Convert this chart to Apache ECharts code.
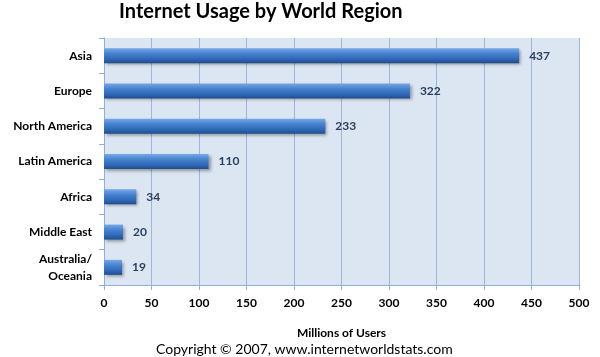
<!DOCTYPE html>
<html><head><meta charset="utf-8">
<script src="https://cdn.jsdelivr.net/npm/echarts@6/dist/echarts.min.js"></script>
<style>html,body{margin:0;padding:0;background:#fff}#c{width:600px;height:357px}</style>
</head><body><div id="c"></div>
<script>
var categories = ['Asia', 'Europe', 'North America', 'Latin America', 'Africa', 'Middle East', 'Australia/\nOceania'];
var users = [437, 322, 233, 110, 34, 20, 19];
var xTicks = [0, 50, 100, 150, 200, 250, 300, 350, 400, 450, 500];

var FONT = 'Lato, "Open Sans", sans-serif';
var chart = echarts.init(document.getElementById('c'), null, {renderer: 'canvas'});
chart.setOption({
  animation: false,
  backgroundColor: '#ffffff',
  title: [{
    text: 'Internet Usage by World Region', left: 114, top: -3,
    textStyle: {fontFamily: FONT, fontSize: 20, fontWeight: 'bold', color: '#000'}
  }, {
    text: 'Copyright \u00a9 2007, www.internetworldstats.com', left: 151, top: 337,
    textStyle: {fontFamily: FONT, fontSize: 14, fontWeight: 'normal', color: '#000'}
  }],
  grid: {left: 104, right: 21, top: 38, bottom: 72, show: true, backgroundColor: '#dce6f2', borderWidth: 0},
  xAxis: {
    type: 'value', min: xTicks[0], max: xTicks[xTicks.length - 1], interval: 50,
    name: 'Millions of Users', nameLocation: 'middle', nameGap: 42,
    nameTextStyle: {fontFamily: FONT, fontSize: 12, fontWeight: 'bold', color: '#000'},
    axisLine: {show: true, lineStyle: {color: '#8fb0dc'}},
    axisTick: {show: true, length: 5, lineStyle: {color: '#8fb0dc'}},
    axisLabel: {fontFamily: FONT, fontSize: 12, fontWeight: 'bold', color: '#000', margin: 12},
    splitLine: {show: true, lineStyle: {color: '#9fb6da', width: 1}}
  },
  yAxis: {
    type: 'category', data: categories, inverse: true,
    axisLine: {show: true, lineStyle: {color: '#8fb0dc'}},
    axisTick: {show: true, length: 5, lineStyle: {color: '#8fb0dc'}},
    axisLabel: {fontFamily: FONT, fontSize: 12, fontWeight: 'bold', color: '#000', margin: 12, lineHeight: 17, align: 'right'},
    splitLine: {show: false}
  },
  series: [{
    type: 'bar', data: users, barWidth: 15,
    itemStyle: {
      color: new echarts.graphic.LinearGradient(0, 0, 0, 1, [
        {offset: 0, color: '#78a8e6'},
        {offset: 0.35, color: '#4683d0'},
        {offset: 0.75, color: '#2d66b4'},
        {offset: 1, color: '#1f4d8c'}
      ]),
      shadowColor: 'rgba(0,0,0,0.35)', shadowBlur: 3, shadowOffsetX: 2, shadowOffsetY: 2
    },
    label: {show: true, position: 'right', distance: 10, fontFamily: FONT, fontSize: 12, fontWeight: 'bold', color: '#2b3f5e'}
  }]
});
</script></body></html>
